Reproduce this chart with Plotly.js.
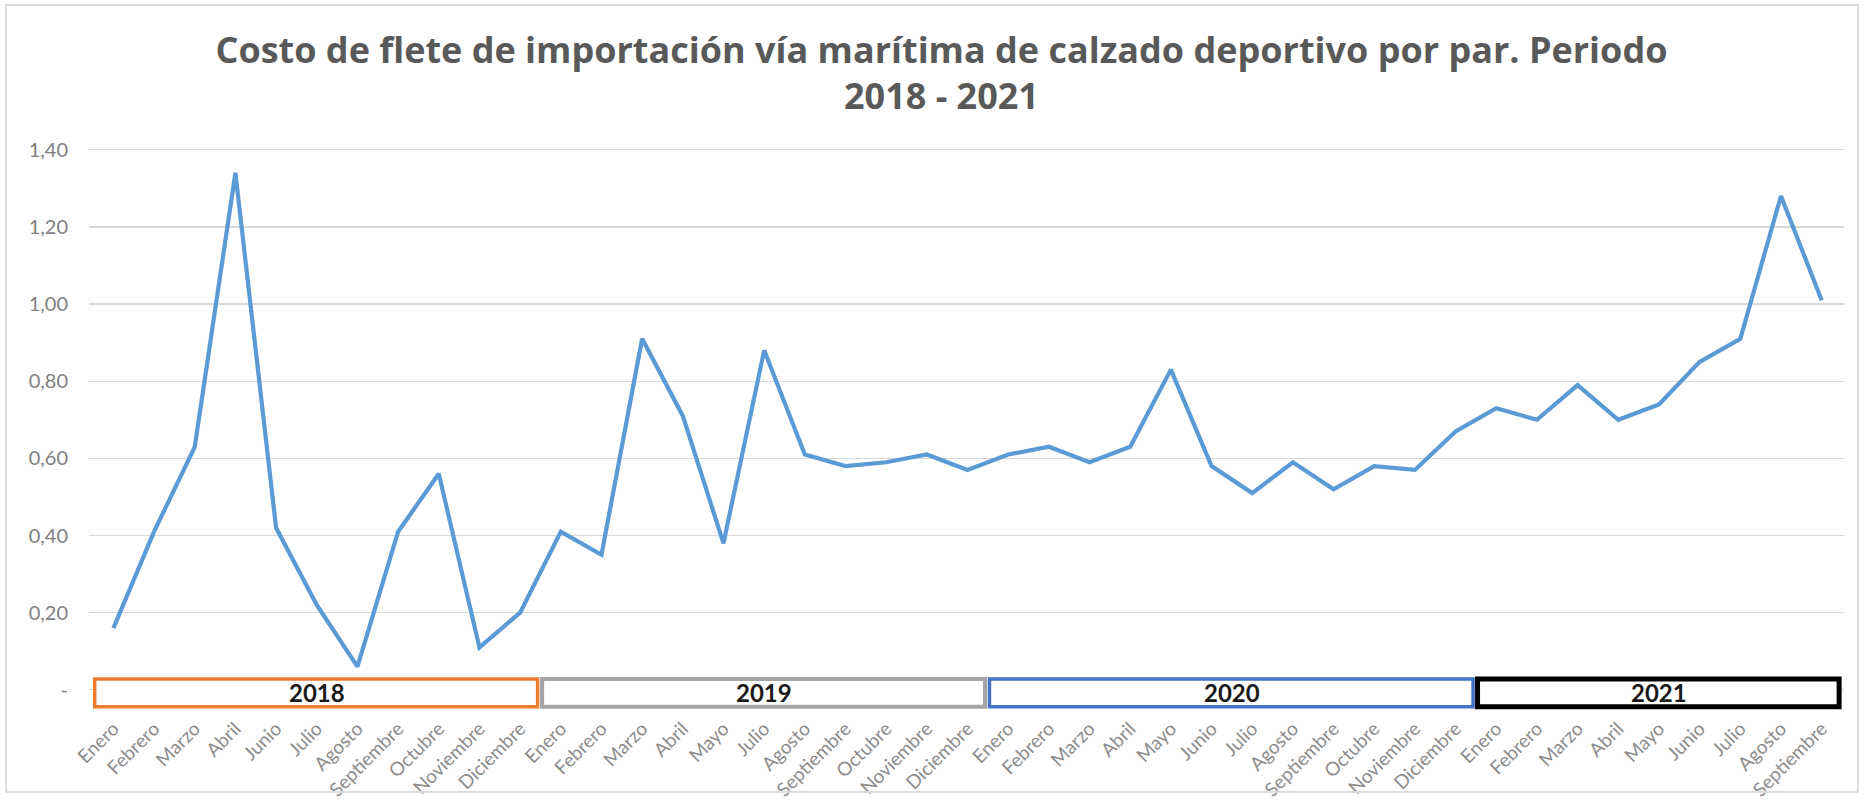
<!DOCTYPE html>
<html>
<head>
<meta charset="utf-8">
<script src="https://cdn.plot.ly/plotly-3.0.1.min.js"></script>
<style>
  html, body { margin: 0; padding: 0; background: #ffffff; }
  #chart { width: 1868px; height: 802px; }
  #frame { position: absolute; left: 5px; top: 4px; width: 1854px; height: 789px;
           border: 2px solid #dcdcdc; pointer-events: none; box-sizing: border-box; }
</style>
</head>
<body>
<div id="chart"></div>
<div id="frame"></div>
<script>
// ---- data ----
const years = ['2018', '2019', '2020', '2021'];
const months2018 = ['Enero','Febrero','Marzo','Abril','Junio','Julio','Agosto','Septiembre','Octubre','Noviembre','Diciembre'];
const months2019 = ['Enero','Febrero','Marzo','Abril','Mayo','Julio','Agosto','Septiembre','Octubre','Noviembre','Diciembre'];
const months2020 = ['Enero','Febrero','Marzo','Abril','Mayo','Junio','Julio','Agosto','Septiembre','Octubre','Noviembre','Diciembre'];
const months2021 = ['Enero','Febrero','Marzo','Abril','Mayo','Junio','Julio','Agosto','Septiembre'];
const cost2018 = [0.16, 0.41, 0.63, 1.34, 0.42, 0.22, 0.06, 0.41, 0.56, 0.11, 0.20];
const cost2019 = [0.41, 0.35, 0.91, 0.71, 0.38, 0.88, 0.61, 0.58, 0.59, 0.61, 0.57];
const cost2020 = [0.61, 0.63, 0.59, 0.63, 0.83, 0.58, 0.51, 0.59, 0.52, 0.58, 0.57, 0.67];
const cost2021 = [0.73, 0.70, 0.79, 0.70, 0.74, 0.85, 0.91, 1.28, 1.01];
const yTickValues = [0, 0.2, 0.4, 0.6, 0.8, 1.0, 1.2, 1.4];
const yTickLabels = ['-', '0,20', '0,40', '0,60', '0,80', '1,00', '1,20', '1,40'];
const titleText = 'Costo de flete de importación vía marítima de calzado deportivo por par. Periodo<br>2018 - 2021';

// ---- build ----
const monthGroups = [months2018, months2019, months2020, months2021];
const costGroups = [cost2018, cost2019, cost2020, cost2021];
const boxColors = ['#ED7D31', '#A5A5A5', '#4472C4', '#000000'];
const boxWidths = [3.5, 4, 3.5, 5];

const monthLabels = [].concat(...monthGroups);
const costs = [].concat(...costGroups);
const xIdx = monthLabels.map((_, i) => i);

const shapes = [];
const annotations = [];
let start = 0;
monthGroups.forEach((g, k) => {
  const end = start + g.length - 1;
  shapes.push({
    type: 'rect', xref: 'x', yref: 'y',
    x0: start - 0.46, x1: end + 0.43,
    y0: -0.044, y1: 0.028,
    fillcolor: '#ffffff',
    line: { color: boxColors[k], width: boxWidths[k] },
    layer: 'above'
  });
  annotations.push({
    xref: 'x', yref: 'y', x: (start + end) / 2, y: -0.008,
    text: '<b>' + years[k] + '</b>', showarrow: false,
    font: { family: 'Lato, "Open Sans", sans-serif', size: 24, color: '#1a1a1a' },
    xanchor: 'center', yanchor: 'middle'
  });
  start = end + 1;
});

const trace = {
  x: xIdx, y: costs, type: 'scatter', mode: 'lines',
  line: { color: '#5B9BD5', width: 4.2 },
  hoverinfo: 'skip'
};

const layout = {
  width: 1868, height: 802,
  paper_bgcolor: '#ffffff', plot_bgcolor: '#ffffff',
  margin: { l: 89, r: 24, t: 142.3, b: 89.3, pad: 0 },
  showlegend: false,
  title: {
    text: titleText,
    font: { family: '"Open Sans", Lato, sans-serif', size: 36, color: '#595959', weight: 'bold' },
    xref: 'container', x: 0.504, xanchor: 'center',
    yref: 'container', y: 0.922, yanchor: 'top'
  },
  xaxis: {
    range: [-0.6, 42.55],
    tickmode: 'array', tickvals: xIdx, ticktext: monthLabels,
    tickangle: -45, ticks: '', showgrid: false, zeroline: false, showline: false,
    tickfont: { family: 'Lato, "Open Sans", sans-serif', size: 19, color: '#8c8c8c' },
    automargin: false, fixedrange: true
  },
  yaxis: {
    range: [-0.06, 1.42],
    tickmode: 'array', tickvals: yTickValues, ticktext: yTickLabels,
    ticks: '', showgrid: true, gridcolor: '#d9d9d9', gridwidth: 1.3,
    zeroline: false, showline: false,
    ticklabelstandoff: 20,
    tickfont: { family: 'Lato, "Open Sans", sans-serif', size: 20, color: '#7f7f7f' },
    automargin: false, fixedrange: true
  },
  shapes: shapes,
  annotations: annotations
};

Plotly.newPlot('chart', [trace], layout, { staticPlot: true, displayModeBar: false });
</script>
</body>
</html>
